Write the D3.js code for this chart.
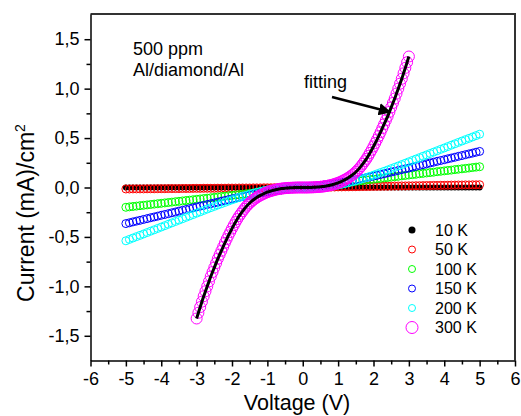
<!DOCTYPE html>
<html>
<head>
<meta charset="utf-8">
<script src="https://cdn.jsdelivr.net/npm/d3@7"></script>
<style>
  body { margin: 0; background: #fff; }
  text { font-family: Arial, "Liberation Sans", sans-serif; fill: #000; }
</style>
</head>
<body>
<div id="chart"></div>
<script>
// I-V curves, Al/diamond/Al

const voltsWide = [
  -5.0,-4.9,-4.8,-4.7,-4.6,-4.5,-4.4,-4.3,-4.2,-4.1,
  -4.0,-3.9,-3.8,-3.7,-3.6,-3.5,-3.4,-3.3,-3.2,-3.1,
  -3.0,-2.9,-2.8,-2.7,-2.6,-2.5,-2.4,-2.3,-2.2,-2.1,
  -2.0,-1.9,-1.8,-1.7,-1.6,-1.5,-1.4,-1.3,-1.2,-1.1,
  -1.0,-0.9,-0.8,-0.7,-0.6,-0.5,-0.4,-0.3,-0.2,-0.1,
  0.0,
  0.1,0.2,0.3,0.4,0.5,0.6,0.7,0.8,0.9,1.0,
  1.1,1.2,1.3,1.4,1.5,1.6,1.7,1.8,1.9,2.0,
  2.1,2.2,2.3,2.4,2.5,2.6,2.7,2.8,2.9,3.0,
  3.1,3.2,3.3,3.4,3.5,3.6,3.7,3.8,3.9,4.0,
  4.1,4.2,4.3,4.4,4.5,4.6,4.7,4.8,4.9,5.0
];

// 300 K sweep, 0.05 V steps
const voltsNarrow = [
  -3.0,-2.95,-2.9,-2.85,-2.8,-2.75,-2.7,-2.65,-2.6,-2.55,
  -2.5,-2.45,-2.4,-2.35,-2.3,-2.25,-2.2,-2.15,-2.1,-2.05,
  -2.0,-1.95,-1.9,-1.85,-1.8,-1.75,-1.7,-1.65,-1.6,-1.55,
  -1.5,-1.45,-1.4,-1.35,-1.3,-1.25,-1.2,-1.15,-1.1,-1.05,
  -1.0,-0.95,-0.9,-0.85,-0.8,-0.75,-0.7,-0.65,-0.6,-0.55,
  -0.5,-0.45,-0.4,-0.35,-0.3,-0.25,-0.2,-0.15,-0.1,-0.05,
  0.0,
  0.05,0.1,0.15,0.2,0.25,0.3,0.35,0.4,0.45,0.5,
  0.55,0.6,0.65,0.7,0.75,0.8,0.85,0.9,0.95,1.0,
  1.05,1.1,1.15,1.2,1.25,1.3,1.35,1.4,1.45,1.5,
  1.55,1.6,1.65,1.7,1.75,1.8,1.85,1.9,1.95,2.0,
  2.05,2.1,2.15,2.2,2.25,2.3,2.35,2.4,2.45,2.5,
  2.55,2.6,2.65,2.7,2.75,2.8,2.85,2.9,2.95,3.0
];

const current10K = [
  0,0,0,0,0,0,0,0,0,0,
  0,0,0,0,0,0,0,0,0,0,
  0,0,0,0,0,0,0,0,0,0,
  0,0,0,0,0,0,0,0,0,0,
  0,0,0,0,0,0,0,0,0,0,
  0,
  0,0,0,0,0,0,0,0,0,0,
  0,0,0,0,0,0,0,0,0,0,
  0,0,0,0,0,0,0,0,0,0,
  0,0,0,0,0,0,0,0,0,0,
  0,0,0,0,0,0,0,0,0,0
];

const current50K = [
  -.015,-.015,-.014,-.014,-.014,-.014,-.013,-.013,-.013,-.012,
  -.012,-.012,-.011,-.011,-.011,-.011,-.010,-.010,-.010,-.009,
  -.009,-.009,-.008,-.008,-.008,-.008,-.007,-.007,-.007,-.006,
  -.006,-.006,-.005,-.005,-.005,-.005,-.004,-.004,-.004,-.003,
  -.003,-.003,-.002,-.002,-.002,-.002,-.001,-.001,-.001,0,
  0,
  .001,.001,.002,.002,.003,.003,.004,.004,.005,.006,
  .006,.007,.007,.008,.008,.009,.010,.010,.011,.011,
  .012,.012,.013,.013,.014,.015,.015,.016,.016,.017,
  .017,.018,.018,.019,.020,.020,.021,.021,.022,.022,
  .023,.024,.024,.025,.025,.026,.026,.027,.027,.028
];

const current100K = [
  -.200,-.196,-.192,-.188,-.184,-.180,-.176,-.172,-.168,-.164,
  -.160,-.156,-.152,-.148,-.144,-.140,-.136,-.132,-.128,-.124,
  -.120,-.116,-.112,-.108,-.104,-.100,-.096,-.092,-.088,-.084,
  -.080,-.076,-.072,-.068,-.064,-.060,-.056,-.052,-.048,-.044,
  -.040,-.036,-.032,-.028,-.024,-.020,-.016,-.012,-.008,-.004,
  0,
  .004,.008,.013,.017,.021,.025,.029,.034,.038,.042,
  .046,.050,.055,.059,.063,.067,.071,.076,.080,.084,
  .088,.092,.097,.101,.105,.109,.113,.118,.122,.126,
  .130,.134,.139,.143,.147,.151,.155,.160,.164,.168,
  .172,.176,.181,.185,.189,.193,.197,.202,.206,.210
];

const current150K = [
  -.365,-.357,-.348,-.340,-.332,-.323,-.315,-.306,-.298,-.290,
  -.281,-.273,-.265,-.256,-.248,-.239,-.231,-.223,-.214,-.206,
  -.197,-.189,-.181,-.172,-.164,-.156,-.148,-.139,-.131,-.123,
  -.115,-.107,-.100,-.092,-.085,-.078,-.071,-.064,-.057,-.051,
  -.045,-.039,-.034,-.029,-.024,-.019,-.015,-.011,-.007,-.004,
  0,
  .004,.007,.011,.015,.019,.024,.029,.034,.039,.045,
  .051,.057,.064,.071,.078,.085,.092,.100,.107,.115,
  .123,.131,.139,.148,.156,.164,.172,.181,.189,.197,
  .206,.214,.223,.231,.239,.248,.256,.265,.273,.281,
  .290,.298,.306,.315,.323,.332,.340,.348,.357,.365
];

const current200K = [
  -.539,-.525,-.511,-.497,-.484,-.470,-.456,-.442,-.428,-.414,
  -.400,-.386,-.372,-.358,-.344,-.330,-.316,-.302,-.288,-.274,
  -.260,-.246,-.232,-.218,-.204,-.191,-.177,-.164,-.151,-.138,
  -.125,-.113,-.101,-.089,-.078,-.068,-.058,-.048,-.040,-.032,
  -.025,-.019,-.014,-.010,-.006,-.004,-.002,-.001,0,0,
  0,
  0,0,.001,.002,.004,.006,.010,.014,.019,.025,
  .032,.040,.048,.058,.068,.078,.089,.101,.113,.125,
  .138,.151,.164,.177,.191,.204,.218,.232,.246,.260,
  .274,.288,.302,.316,.330,.344,.358,.372,.386,.400,
  .414,.428,.442,.456,.470,.484,.497,.511,.525,.539
];

const current300K = [
  -1.325,-1.267,-1.21,-1.155,-1.10,-1.05,-1.00,-0.95,-0.90,-0.855,
  -0.81,-0.765,-0.72,-0.68,-0.64,-0.60,-0.56,-0.522,-0.485,-0.45,
  -0.415,-0.382,-0.35,-0.319,-0.29,-0.265,-0.24,-0.216,-0.194,-0.175,
  -0.157,-0.141,-0.126,-0.113,-0.101,-0.090,-0.080,-0.071,-0.062,-0.054,
  -0.047,-0.041,-0.035,-0.030,-0.025,-0.021,-0.017,-0.014,-0.011,-0.009,
  -0.007,-0.005,-0.004,-0.003,-0.002,-0.001,-0.001,0,0,0,
  0,
  0,0,0,.001,.001,.002,.003,.004,.005,.007,
  .009,.011,.014,.017,.021,.025,.030,.035,.041,.047,
  .054,.062,.071,.080,.090,.101,.113,.126,.141,.157,
  .175,.194,.216,.240,.265,.290,.319,.350,.382,.415,
  .45,.485,.522,.56,.60,.64,.68,.72,.765,.81,
  .855,.90,.95,1.00,1.05,1.10,1.155,1.21,1.267,1.325
];

const seriesNames = ["10 K", "50 K", "100 K", "150 K", "200 K", "300 K"];
const seriesColors = ["#000000", "#ff0000", "#00ff00", "#0000ff", "#00ffff", "#ff00ff"];
const seriesValues = [current10K, current50K, current100K, current150K, current200K, current300K];
const seriesVolts = [voltsWide, voltsWide, voltsWide, voltsWide, voltsWide, voltsNarrow];

const xTicks = [-6, -5, -4, -3, -2, -1, 0, 1, 2, 3, 4, 5, 6];
const yTicks = [-1.5, -1.0, -0.5, 0.0, 0.5, 1.0, 1.5];

const width = 521, height = 416;
const plotLeft = 90.5, plotRight = 515, plotTop = 14, plotBottom = 360.5;

const svg = d3.select("#chart")
    .append("svg")
    .attr("width", width)
    .attr("height", height);

const x = d3.scaleLinear().domain([-6, 6]).range([plotLeft, plotRight]);
const y = d3.scaleLinear().domain([-1.75, 1.755]).range([plotBottom, plotTop]);

const loc = d3.formatLocale({decimal: ",", thousands: ".", grouping: [3], currency: ["", ""], minus: "-"});
const fmtY = loc.format(".1f");
const fmtX = loc.format("d");

// frame (top and right)
svg.append("path")
    .attr("d", `M${plotLeft},${plotTop}H${plotRight}V${plotBottom}`)
    .attr("fill", "none")
    .attr("stroke", "#333")
    .attr("stroke-width", 2);

// minor ticks
const xMinor = svg.append("g")
    .attr("transform", `translate(0,${plotBottom})`)
    .call(d3.axisBottom(x).tickValues(xTicks.slice(1).map(d => d - 0.5)).tickSize(4).tickFormat(""));
xMinor.select(".domain").remove();

const yMinor = svg.append("g")
    .attr("transform", `translate(${plotLeft},0)`)
    .call(d3.axisLeft(y).tickValues(yTicks.slice(1).map(d => d - 0.25)).tickSize(4).tickFormat(""));
yMinor.select(".domain").remove();

// main axes
const xAxis = svg.append("g")
    .attr("transform", `translate(0,${plotBottom})`)
    .call(d3.axisBottom(x).tickValues(xTicks).tickSize(6).tickSizeOuter(0).tickPadding(6).tickFormat(fmtX));

const yAxis = svg.append("g")
    .attr("transform", `translate(${plotLeft},0)`)
    .call(d3.axisLeft(y).tickValues(yTicks).tickSize(6).tickSizeOuter(0).tickPadding(5).tickFormat(fmtY));

svg.selectAll(".tick line").attr("stroke", "#000").attr("stroke-width", 1.5);
svg.selectAll(".domain").attr("stroke", "#000").attr("stroke-width", 1.5);
xAxis.selectAll("text").attr("font-size", "18px").attr("font-family", "Arial, 'Liberation Sans', sans-serif");
yAxis.selectAll("text").attr("font-size", "18px").attr("font-family", "Arial, 'Liberation Sans', sans-serif");

// axis titles
svg.append("text")
    .attr("x", 297)
    .attr("y", 410)
    .attr("text-anchor", "middle")
    .attr("font-size", "21.5px")
    .text("Voltage (V)");

const yTitle = svg.append("text")
    .attr("transform", "translate(34,213) rotate(-90)")
    .attr("text-anchor", "middle")
    .attr("font-size", "23px");
yTitle.append("tspan").text("Current (mA)/cm");
yTitle.append("tspan").attr("font-size", "14px").attr("dy", "-9").text("2");

// data points
seriesValues.forEach((vals, i) => {
    const pts = vals.map((v, j) => ({v: seriesVolts[i][j], c: v}));
    const g = svg.append("g");
    if (i === 0) {
        g.selectAll("circle").data(pts).enter().append("circle")
            .attr("cx", d => x(d.v))
            .attr("cy", d => y(d.c))
            .attr("r", 3)
            .attr("fill", "#000");
    } else {
        g.selectAll("circle").data(pts).enter().append("circle")
            .attr("cx", d => x(d.v))
            .attr("cy", d => y(d.c))
            .attr("r", i === 5 ? 5.5 : 4)
            .attr("fill", "none")
            .attr("stroke", seriesColors[i])
            .attr("stroke-width", 1);
    }
});

// fitting line for 300 K
const fitLine = d3.line()
    .x((d, j) => x(voltsNarrow[j]))
    .y(d => y(d))
    .curve(d3.curveCatmullRom);

svg.append("path")
    .attr("d", fitLine(current300K))
    .attr("fill", "none")
    .attr("stroke", "#000")
    .attr("stroke-width", 3);

// annotations
svg.append("text").attr("x", 133).attr("y", 55).attr("font-size", "18px").text("500 ppm");
svg.append("text").attr("x", 133).attr("y", 76).attr("font-size", "18px").text("Al/diamond/Al");
svg.append("text").attr("x", 304).attr("y", 88).attr("font-size", "18px").text("fitting");

svg.append("defs").append("marker")
    .attr("id", "arrow")
    .attr("viewBox", "0 0 10 10")
    .attr("refX", 9).attr("refY", 5)
    .attr("markerWidth", 5).attr("markerHeight", 5)
    .attr("orient", "auto")
    .append("path")
    .attr("d", "M0,0L10,5L0,10Z")
    .attr("fill", "#000");

svg.append("line")
    .attr("x1", 332).attr("y1", 97)
    .attr("x2", 390).attr("y2", 112)
    .attr("stroke", "#000")
    .attr("stroke-width", 2.5)
    .attr("marker-end", "url(#arrow)");

// legend
const legend = svg.append("g").selectAll("g")
    .data(seriesNames)
    .enter().append("g")
    .attr("transform", (d, i) => `translate(412,${230 + i * 19.5})`);

legend.append("circle")
    .attr("r", (d, i) => i === 5 ? 6 : 3.5)
    .attr("fill", (d, i) => i === 0 ? "#000" : "none")
    .attr("stroke", (d, i) => i === 0 ? "none" : seriesColors[i])
    .attr("stroke-width", 1);

legend.append("text")
    .attr("x", 23)
    .attr("dy", "0.36em")
    .attr("font-size", "16px")
    .text(d => d);
</script>
</body>
</html>
